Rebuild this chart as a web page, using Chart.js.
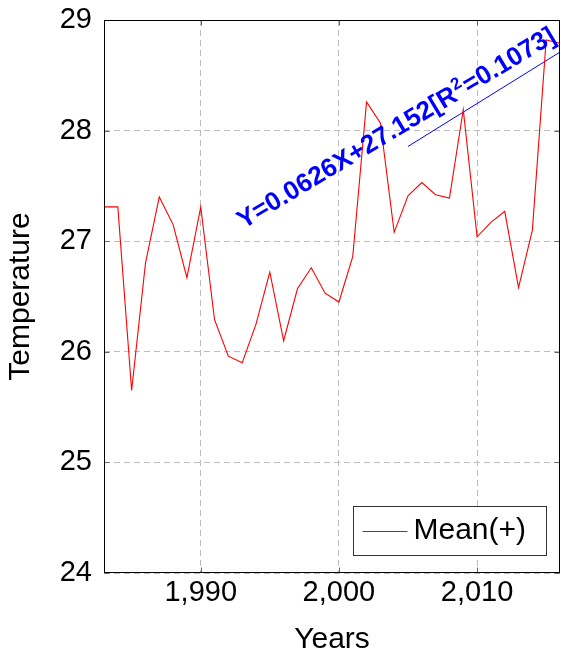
<!DOCTYPE html>
<html>
<head>
<meta charset="utf-8">
<script src="https://cdn.jsdelivr.net/npm/chart.js@4.4.1/dist/chart.umd.min.js"></script>
<style>
  html, body { margin: 0; padding: 0; background: #ffffff; }
  #wrap { width: 561px; height: 659px; position: relative; }
</style>
</head>
<body>
<div id="wrap"><canvas id="c" width="561" height="659"></canvas></div>
<script>
// ---- data ----
const years = [1983, 1984, 1985, 1986, 1987, 1988, 1989, 1990, 1991, 1992, 1993, 1994,
               1995, 1996, 1997, 1998, 1999, 2000, 2001, 2002, 2003, 2004, 2005, 2006,
               2007, 2008, 2009, 2010, 2011, 2012, 2013, 2014, 2015, 2016];
const meanTemp = [27.31, 27.31, 25.65, 26.80, 27.40, 27.15, 26.67, 27.31, 26.29, 25.96,
                  25.90, 26.25, 26.72, 26.10, 26.57, 26.76, 26.53, 26.45, 26.86, 28.26,
                  28.07, 27.08, 27.41, 27.53, 27.42, 27.39, 28.19, 27.04, 27.17, 27.27,
                  26.58, 27.10, 28.82, 28.79];
const trendYears = [2005, 2016];
const trendValues = [27.857, 28.71];
const xTickValues = [1990, 2000, 2010];
const yMin = 24, yMax = 29;
const xMin = 1983, xMax = 2016;
const seriesLabel = 'Mean(+)';
const trendText1 = 'Y=0.0626X+27.152[R';
const trendSup = '2';
const trendText2 = '=0.1073]';
const xTitle = 'Years';
const yTitle = 'Temperature';

const FONT = "'Liberation Sans', Arial, Helvetica, sans-serif";

const framePlugin = {
  id: 'frame',
  beforeDatasetsDraw(chart) {
    const {ctx, chartArea: a, scales} = chart;
    ctx.save();
    ctx.strokeStyle = '#666';
    ctx.lineWidth = 1;
    ctx.setLineDash([]);
    const L = Math.round(a.left) + 0.5, R = Math.round(a.right) - 0.5;
    const T = Math.round(a.top) + 0.5, B = Math.round(a.bottom) - 0.5;
    const tl = 5;
    ctx.beginPath();
    scales.y.ticks.forEach(t => {
      const y = Math.round(scales.y.getPixelForValue(t.value)) + 0.5;
      ctx.moveTo(L, y); ctx.lineTo(L + tl, y);
      ctx.moveTo(R, y); ctx.lineTo(R - tl, y);
    });
    scales.x.ticks.forEach(t => {
      const x = Math.round(scales.x.getPixelForValue(t.value)) + 0.5;
      ctx.moveTo(x, B); ctx.lineTo(x, B - tl);
      ctx.moveTo(x, T); ctx.lineTo(x, T + tl);
    });
    ctx.stroke();
    ctx.restore();
  },
  afterDatasetsDraw(chart) {
    const {ctx, chartArea: a, scales} = chart;
    // trend label along the fitted line
    ctx.save();
    const ax = scales.x.getPixelForValue(2004.45);
    const ay = scales.y.getPixelForValue(27.96);
    ctx.translate(ax, ay);
    ctx.rotate(-31 * Math.PI / 180);
    ctx.fillStyle = '#0000ff';
    const big = 'bold 26px ' + FONT;
    const small = 'bold 17px ' + FONT;
    ctx.font = big;
    const w1 = ctx.measureText(trendText1).width;
    const w3 = ctx.measureText(trendText2).width;
    ctx.font = small;
    const w2 = ctx.measureText(trendSup).width;
    const total = w1 + w2 + w3 + 2;
    let x = -total / 2;
    ctx.textBaseline = 'alphabetic';
    ctx.textAlign = 'left';
    ctx.font = big;
    ctx.fillText(trendText1, x, 0);
    x += w1 + 1;
    ctx.font = small;
    ctx.fillText(trendSup, x, -10);
    x += w2 + 1;
    ctx.font = big;
    ctx.fillText(trendText2, x, 0);
    ctx.restore();

    // outer frame
    ctx.save();
    ctx.strokeStyle = '#000';
    ctx.lineWidth = 1;
    ctx.setLineDash([]);
    const L = Math.round(a.left) + 0.5, R = Math.round(a.right) - 0.5;
    const T = Math.round(a.top) + 0.5, B = Math.round(a.bottom) - 0.5;
    ctx.strokeRect(L, T, R - L, B - T);
    ctx.restore();

    // legend box (bottom right inside the plot)
    const ds = chart.data.datasets[0];
    ctx.save();
    const bx = Math.round(a.right - 207) + 0.5;
    const by = Math.round(a.bottom - 67) + 0.5;
    const bw = 193, bh = 49;
    ctx.fillStyle = '#fff';
    ctx.fillRect(bx, by, bw, bh);
    ctx.strokeStyle = '#333';
    ctx.lineWidth = 1;
    ctx.strokeRect(bx, by, bw, bh);
    const ly = Math.round(by + bh / 2);
    ctx.strokeStyle = ds.borderColor;
    ctx.beginPath();
    ctx.moveTo(bx + 9, ly + 0.5);
    ctx.lineTo(bx + 54, ly + 0.5);
    ctx.stroke();
    ctx.fillStyle = '#000';
    ctx.font = '30px ' + FONT;
    ctx.textBaseline = 'middle';
    ctx.textAlign = 'left';
    ctx.fillText(ds.label, bx + 60, ly);
    ctx.restore();
  }
};

new Chart(document.getElementById('c'), {
  type: 'line',
  data: {
    datasets: [
      {
        label: seriesLabel,
        data: years.map((y, i) => ({x: y, y: meanTemp[i]})),
        borderColor: '#ff0000',
        borderWidth: 1.1,
        pointRadius: 0,
        tension: 0,
        fill: false
      },
      {
        label: 'trend',
        data: trendYears.map((y, i) => ({x: y, y: trendValues[i]})),
        borderColor: '#0000ff',
        borderWidth: 1,
        pointRadius: 0,
        tension: 0,
        fill: false
      }
    ]
  },
  options: {
    responsive: false,
    animation: false,
    devicePixelRatio: 1,
    layout: { padding: { top: 20, right: 1, bottom: 0, left: 0 } },
    plugins: { legend: { display: false }, tooltip: { enabled: false } },
    scales: {
      x: {
        type: 'linear',
        min: xMin, max: xMax,
        afterBuildTicks(scale) { scale.ticks = xTickValues.map(v => ({value: v})); },
        afterFit(scale) { scale.height = 86; scale.paddingLeft = 0; scale.paddingRight = 0; },
        border: { display: false, dash: [6, 4] },
        grid: { color: '#bdbdbd', lineWidth: 1, drawTicks: false },
        ticks: {
          color: '#000', padding: 3,
          font: { family: FONT, size: 29 },
          maxRotation: 0
        },
        title: {
          display: true, text: xTitle, color: '#000',
          font: { family: FONT, size: 30 },
          padding: { top: 0, bottom: 1 }
        }
      },
      y: {
        min: yMin, max: yMax,
        afterFit(scale) { scale.width = 104; scale.paddingTop = 0; scale.paddingBottom = 0; },
        border: { display: false, dash: [6, 4] },
        grid: { color: '#bdbdbd', lineWidth: 1, drawTicks: false },
        ticks: {
          stepSize: 1, color: '#000', padding: 12,
          font: { family: FONT, size: 29 }
        },
        title: {
          display: true, text: yTitle, color: '#000',
          font: { family: FONT, size: 30 },
          padding: { top: 3, bottom: 0 }
        }
      }
    }
  },
  plugins: [framePlugin]
});
</script>
</body>
</html>
